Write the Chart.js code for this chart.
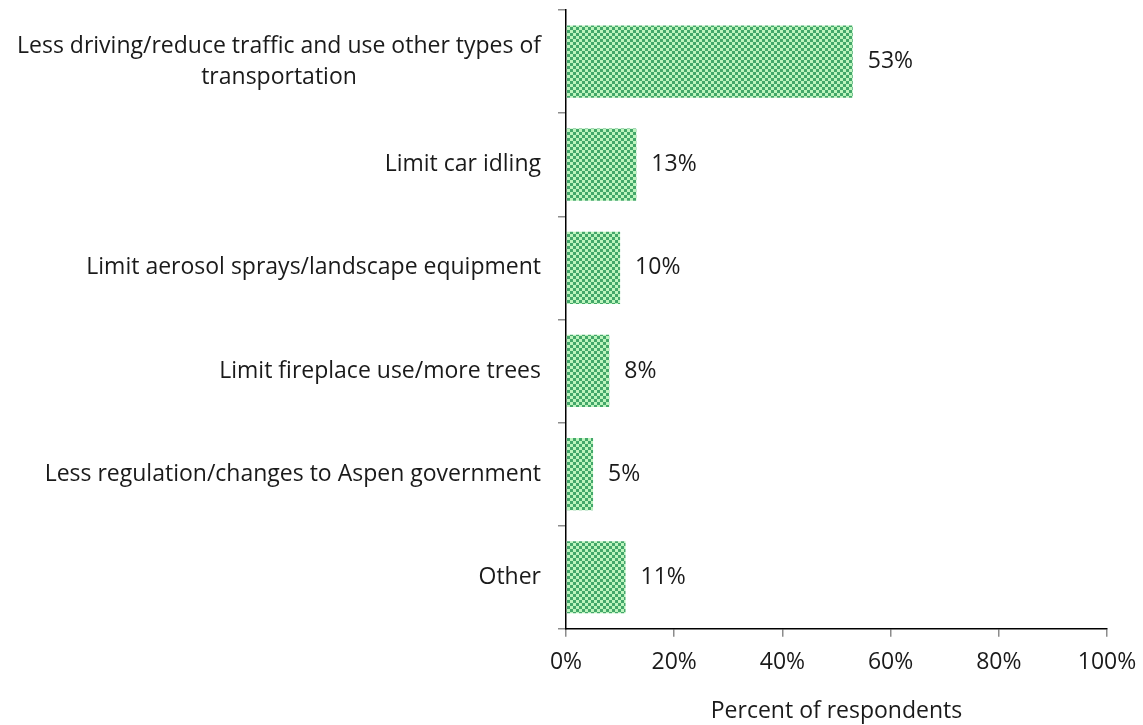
<!DOCTYPE html>
<html>
<head>
<meta charset="utf-8">
<script src="https://cdn.jsdelivr.net/npm/chart.js@4"></script>
<style>
  html, body { margin: 0; padding: 0; background: #fff; }
  #wrap { width: 1143px; height: 725px; }
</style>
</head>
<body>
<div id="wrap"><canvas id="myChart"></canvas></div>
<script>
const categories = [
    ["Less driving/reduce traffic and use other types of", "transportation"],
    "Limit car idling",
    "Limit aerosol sprays/landscape equipment",
    "Limit fireplace use/more trees",
    "Less regulation/changes to Aspen government",
    "Other"
];
const percentValues = [53, 13, 10, 8, 5, 11];
const xTicks = [0, 20, 40, 60, 80, 100];

const fontFamily = "'Open Sans', 'Liberation Sans', sans-serif";
const fontSize = 23;
const textColor = "#1a1a1a";

// small green checkerboard fill
function checkerPattern() {
    const c = document.createElement("canvas");
    c.width = 6;
    c.height = 6;
    const g = c.getContext("2d");
    g.fillStyle = "#43a76a";
    g.fillRect(0, 0, 6, 6);
    g.fillStyle = "#bdf5bd";
    g.fillRect(0, 0, 3, 3);
    g.fillRect(3, 3, 3, 3);
    return g.createPattern(c, "repeat");
}

// category names drawn left of the axis, multi-line ones centred as a block
const categoryLabels = {
    id: "categoryLabels",
    afterDraw(chart) {
        const ctx = chart.ctx;
        const y = chart.scales.y;
        const right = chart.chartArea.left - 25;
        const lineH = 31;
        ctx.save();
        ctx.font = fontSize + "px " + fontFamily;
        ctx.fillStyle = textColor;
        ctx.textBaseline = "middle";
        categories.forEach((label, i) => {
            const cy = y.getPixelForValue(i);
            const lines = Array.isArray(label) ? label : [label];
            const widest = Math.max(...lines.map(l => ctx.measureText(l).width));
            const top = cy - (lines.length - 1) * lineH / 2;
            lines.forEach((line, k) => {
                if (lines.length > 1) {
                    ctx.textAlign = "center";
                    ctx.fillText(line, right - widest / 2, top + k * lineH);
                } else {
                    ctx.textAlign = "right";
                    ctx.fillText(line, right, top);
                }
            });
        });
        ctx.restore();
    }
};

// percentage after each bar
const valueLabels = {
    id: "valueLabels",
    afterDatasetsDraw(chart) {
        const ctx = chart.ctx;
        const meta = chart.getDatasetMeta(0);
        ctx.save();
        ctx.font = fontSize + "px " + fontFamily;
        ctx.fillStyle = textColor;
        ctx.textAlign = "left";
        ctx.textBaseline = "middle";
        meta.data.forEach((bar, i) => {
            ctx.fillText(percentValues[i] + "%", bar.x + 15, bar.y);
        });
        ctx.restore();
    }
};

new Chart("myChart", {
    type: "bar",
    data: {
        labels: categories,
        datasets: [{
            data: percentValues,
            backgroundColor: checkerPattern(),
            borderWidth: 0,
            barPercentage: 0.7,
            categoryPercentage: 1.0
        }]
    },
    options: {
        indexAxis: "y",
        responsive: true,
        maintainAspectRatio: false,
        animation: false,
        layout: {
            padding: { left: 558, right: 36, top: 10, bottom: 0 }
        },
        plugins: {
            legend: { display: false },
            tooltip: { enabled: false }
        },
        scales: {
            x: {
                min: 0,
                max: 100,
                afterBuildTicks(scale) {
                    scale.ticks = xTicks.map(v => ({ value: v }));
                },
                afterFit(scale) {
                    // let the layout padding decide where 100% sits
                    scale.paddingLeft = 0;
                    scale.paddingRight = 0;
                },
                border: { color: "#000", width: 1.5 },
                grid: {
                    drawOnChartArea: false,
                    drawTicks: true,
                    tickLength: 8,
                    color: "#8c8c8c",
                    lineWidth: 1.5
                },
                ticks: {
                    padding: 12,
                    color: textColor,
                    font: { family: fontFamily, size: fontSize },
                    callback: v => v + "%"
                },
                title: {
                    display: true,
                    text: "Percent of respondents",
                    color: textColor,
                    font: { family: fontFamily, size: fontSize },
                    padding: { top: 9, bottom: 0 }
                }
            },
            y: {
                border: { color: "#000", width: 1.5 },
                grid: {
                    drawOnChartArea: false,
                    drawTicks: true,
                    tickLength: 8,
                    offset: true,
                    color: "#8c8c8c",
                    lineWidth: 1.5
                },
                ticks: { display: false }
            }
        }
    },
    plugins: [categoryLabels, valueLabels]
});
</script>
</body>
</html>
